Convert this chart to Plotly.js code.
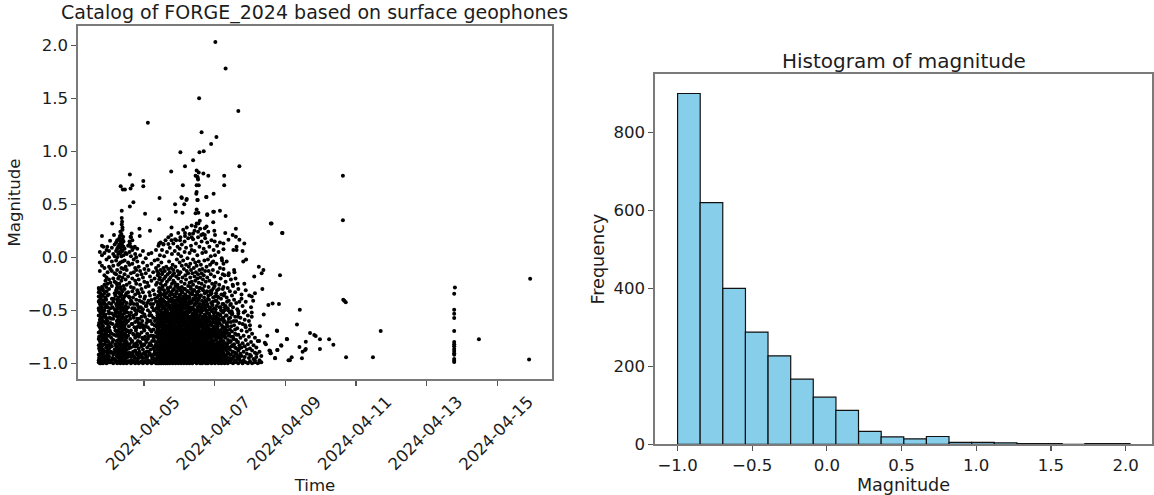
<!DOCTYPE html>
<html><head><meta charset="utf-8">
<script src="https://cdn.plot.ly/plotly-3.0.1.min.js"></script>
<style>html,body{margin:0;padding:0;background:#fff}#c{width:1154px;height:495px}</style></head>
<body><div id="c"></div>
<script>
const baseDay = Date.UTC(2024, 3, 3);
// isolated events: days after 2024-04-03 00:00, magnitude
const sparseDays = [4.02,4.31,3.56,4.67,2.11,3.63,4.05,3.90,3.69,3.57,3.03,3.39,3.16,4.70,2.77,3.49,3.55,3.68,3.82,4.27,3.46,3.51,3.53,3.52,1.60,1.98,1.98,1.67,1.62,1.34,1.40,1.46,3.10,3.49,3.55,4.27,3.49,3.48,3.97,3.76,2.44,3.07,3.21,3.52,
3.06,3.20,3.51,3.77,2.88,3.14,1.70,1.60,1.37,2.03,2.90,3.09,3.49,3.46,3.54,3.79,3.98,2.43,1.37,1.38,1.37,1.10,1.39,3.58,3.54,3.46,1.87,2.78,2.17,3.77,3.72,.81,1.15,1.32,1.41,1.62,1.65,1.88,3.16,3.16,3.39,3.35,3.53,3.62,3.72,3.82,2.78,2.88,3.02,1.04,.85,.96,1.37,1.32,1.42,1.60,1.74,2.43,2.55,2.69,
5.59,5.91,4.60,4.31,4.15,3.96,3.79,3.96,4.30,3.99,4.01,4.51,4.60,4.70,4.84,4.39,4.25,4.15,4.00,4.53,4.62,4.62,4.79,4.25,4.89,4.81,4.25,4.20,3.96,5.25,5.33,5.38,5.85,5.12,4.56,4.39,4.59,4.84,4.65,4.51,5.35,5.14,4.98,5.05,4.76,5.09,4.88,5.64,5.82,5.52,5.39,5.05,4.86,4.67,4.48,5.28,5.05,5.76,5.00,4.86,5.49,5.26,5.42,5.45,6.04,5.88,5.55,5.59,5.77,5.71,6.09,5.28,5.19,5.00,5.14,
7.63,7.63,5.61,5.92,7.64,7.67,7.71,6.41,6.33,5.77,8.70,6.70,6.82,6.86,6.05,6.98,7.24,6.58,7.36,5.89,6.40,6.58,6.98,5.78,6.56,6.49,5.57,5.58,6.47,5.71,6.18,6.13,7.72,8.48,
10.80,10.78,10.78,10.78,10.78,10.78,10.78,10.78,10.78,10.78,10.78,10.78,10.78,10.78,10.78,10.78,11.48,12.93,12.90];
const sparseMags = [2.03,1.78,1.50,1.38,1.27,1.18,1.135,1.07,1.0,.99,.99,.915,.86,.86,.81,.82,.80,.79,.77,.77,.77,.76,.735,.75,.78,.72,.67,.68,.65,.67,.64,.64,.68,.68,.68,.68,.615,.60,.60,.57,.56,.56,.55,.54,
.566,.54,.54,.57,.50,.50,.52,.48,.44,.41,.43,.42,.45,.415,.42,.405,.43,.36,.37,.335,.31,.32,.28,.345,.32,.29,.27,.28,.25,.29,.275,.20,.21,.20,.195,.195,.225,.20,.23,.20,.225,.19,.24,.21,.21,.24,.16,.17,.16,.157,.10,.10,.13,.10,.10,.13,.10,.13,.125,.125,
.32,.23,.27,.39,.44,.43,.40,.33,.23,.25,.21,.21,.195,.165,.13,.165,.13,.14,.15,.07,.10,.07,.06,.075,-.02,-.04,-.06,-.01,-.04,-.09,-.15,-.12,-.17,-.18,-.14,-.17,-.20,-.25,-.25,-.26,-.30,-.34,-.36,-.37,-.39,-.41,-.42,-.435,-.44,-.45,-.54,-.52,-.51,-.51,-.51,-.65,-.56,-.69,-.64,-.64,-.74,-.79,-.805,-.82,-.77,-.83,-.88,-.905,-.875,-.95,-.97,-.99,-.91,-.92,-.97,
.77,.35,.32,.23,-.40,-.41,-.425,-.494,-.633,-.695,-.695,-.714,-.733,-.743,-.774,-.774,-.774,-.796,-.824,-.834,-.846,-.865,-.865,-.875,-.875,-.89,-.884,-.906,-.953,-.953,-.944,-.972,-.944,-.944,
-.284,-.343,-.494,-.532,-.573,-.695,-.80,-.82,-.84,-.865,-.884,-.906,-.92,-.96,-.975,-.988,-.774,-.202,-.963];
// crowded part of the cloud, read column by column
const columnDays = [.72,.75,.78,.81,.84,.88,.91,.94,.97,1.01,1.05,1.09,1.13,1.17,1.21,1.24,1.27,1.30,1.33,1.36,1.39,1.42,1.45,1.48,1.51,1.55,1.59,1.63,1.67,1.71,1.75,1.78,1.81,1.85,1.89,1.93,1.97,2.01,2.05,2.09,2.13,2.17,2.21,2.26,2.30,2.34];
const columnMags = [
[-.99,-.92,-.97,-.71,-.83,-.64,-.48,-.55,-.37,-.42,-.29,-.33,-.77],
[-1,-.94,-.88,-.79,-.85,-.59,-.66,-.51,-.44,-.31,-.13,-.05,.05,-.98],
[-.96,-.9,-.81,-.74,-.86,-.68,-.61,-.46,-.53,-.38,-.35,-1],
[-.99,-.93,-.84,-.76,-.7,-.63,-.57,-.49,-.28,-.08,.02,.11,-.89],
[-1,-.95,-.87,-.91,-.73,-.65,-.78,-.52,-.6,-.41,-.31],
[-.97,-.99,-.82,-.69,-.75,-.56,-.43,-.5,-.34,-.26,-.17,-.1,.04],
[-.98,-.89,-.93,-.8,-.72,-.62,-.54,-.39,-.47,-.22],
[-1,-.95,-.85,-.67,-.77,-.58,-.45,-.32,-.19,-.02,.07],
[-.96,-.91,-.79,-.83,-.6,-.7,-.47,-.36,-.25,-.14],
[-.99,-.88,-.94,-.74,-.66,-.53,-.43,-.3,-.21,-.09,.0,.06],
[-.99,-.9,-.82,-.62,-.71,-.48,-.24,-.11],
[-.97,-.84,-.72,-.53,-.39,-.27,-.13,-.04,.09],
[-1,-.92,-.78,-.58,-.42,-.2,-.08,.03],
[-.96,-.87,-.66,-.49,-.34,-.23,-.15,.01,.12],
[-.98,-.9,-.84,-.74,-.64,-.55,-.44,-.31,-.24,-.16,-.03,.06,.14],
[-1,-.93,-.79,-.86,-.71,-.56,-.63,-.4,-.49,-.33,-.26,-.12,.0,.08,.16],
[-.95,-.99,-.89,-.78,-.84,-.65,-.72,-.52,-.59,-.45,-.38,-.29,-.2,-.07,.03,.1],
[-.98,-.91,-.86,-.75,-.81,-.62,-.69,-.47,-.55,-.41,-.34,-.25,-.18,-.06,.05,.12,.18],
[-1,-.94,-.82,-.87,-.68,-.76,-.53,-.6,-.46,-.37,-.28,-.14,-.05,.04,.09,.15,.24],
[-.96,-.99,-.9,-.73,-.79,-.58,-.66,-.5,-.43,-.35,-.22,-.1,.01,.07,.13,.22],
[-.98,-.88,-.93,-.77,-.83,-.62,-.7,-.44,-.54,-.32,-.19,-.04,.06,.11,.17,.26],
[-1,-.91,-.84,-.75,-.67,-.57,-.48,-.39,-.27,-.11,.02,.15],
[-.96,-.89,-.99,-.72,-.81,-.51,-.64,-.42,-.3,-.16,-.03,.08],
[-.98,-.86,-.93,-.68,-.78,-.59,-.46,-.36,-.21,-.09,.04],
[-1,-.87,-.95,-.7,-.8,-.43,-.56,-.26,-.12,.03],
[-.92,-.99,-.74,-.83,-.47,-.6,-.33,-.18,-.05,.11],
[-.98,-.82,-.9,-.55,-.71,-.38,-.24,-.07,.05,.15],
[-1,-.85,-.94,-.52,-.69,-.41,-.28,-.15,.01,.1,.19],
[-.91,-.99,-.63,-.79,-.32,-.48,-.2,-.06,.07,.16],
[-.98,-.84,-.93,-.57,-.73,-.29,-.44,-.14,-.02,.09],
[-1,-.76,-.88,-.5,-.95,-.61,-.35,-.22,-.1,.03],
[-.9,-.99,-.67,-.81,-.4,-.53,-.25,-.12,.0],
[-.98,-.83,-.92,-.58,-.72,-.31,-.45,-.17,-.04,.08],
[-1,-.75,-.86,-.94,-.47,-.62,-.34,-.21,-.09],
[-.91,-.99,-.66,-.8,-.37,-.51,-.26,-.13,.02],
[-.98,-.84,-.93,-.56,-.71,-.3,-.42,-.16],
[-1,-.87,-.95,-.64,-.77,-.33,-.49,-.19,-.05,.06],
[-.9,-.99,-.69,-.82,-.39,-.54,-.23,-.11],
[-.98,-.78,-.92,-.46,-.65,-.28,-.15,-.01],
[-1,-.85,-.94,-.59,-.72,-.43,-.24,-.08],
[-.89,-.99,-.6,-.75,-.41,-.27,-.12,.03],
[-.98,-.81,-.91,-.52,-.68,-.36,-.18],
[-1,-.83,-.93,-.55,-.7,-.4,-.22,-.06,.04],
[-.86,-.99,-.95,-.74,-.57,-.44,-.31,-.14],
[-.98,-.79,-.9,-.64,-.5,-.35,-.2,-.03],
[-1,-.82,-.96,-.92,-.71,-.58,-.42,-.26,-.1,.07]];
// dense block around 2024-04-05 to 2024-04-07
const blockDays = [2.37,2.39,2.41,2.43,2.45,2.47,2.49,2.51,2.53,2.55,2.57,2.59,2.61,2.63,2.65,2.67,2.69,2.71,2.73,2.75,2.77,2.79,2.81,2.83,2.85,2.87,2.89,2.91,2.93,2.95,2.97,2.99,3.01,3.03,3.05,3.07,3.09,3.11,3.13,3.15,3.17,3.19,3.21,3.23,3.25,3.27,3.29,3.31,3.33,3.35,3.37,3.39,3.41,3.43,3.45,3.47,3.49,3.51,3.53,3.55,3.57,3.59,3.61,3.63,3.65,3.67,3.69,3.71,3.73,3.75,3.77,3.79,3.81,3.83,3.85,3.87,3.89,3.91,3.93,3.95,3.97,3.99,4.01,4.03,4.05,4.07,4.09,4.11,4.13,4.15,4.17,4.19,4.21,4.23];
const blockMags = [
[-.97,-.86,-1,-.74,-.91,-.63,-.38,-.52,-.24,-.13],
[-.99,-.8,-.94,-.67,-.85,-.45,-.58,-.17,-.02],
[-.89,-1,-.96,-.72,-.56,-.78,-.36,-.49,-.15,-.08,.11],
[-.95,-.83,-.98,-.61,-.71,-.43,-.88,-.29,-.54,-.21],
[-.92,-1,-.77,-.85,-.64,-.5,-.33,-.4,-.19,.02],
[-.97,-.81,-.89,-.59,-.69,-.46,-.93,-.25,-.12,.14],
[-1,-.86,-.94,-.75,-.62,-.53,-.39,-.3,-.05],
[-.96,-.79,-.91,-.66,-.84,-.44,-.57,-.22,-.16,.07],
[-.99,-.87,-.93,-.73,-.6,-.48,-.35,-.27,-.14],
[-.95,-1,-.82,-.69,-.76,-.55,-.41,-.1,.12],
[-.9,-.97,-.84,-.63,-.71,-.47,-.52,-.31,-.2,.01],
[-.98,-.88,-.78,-.65,-.58,-.92,-.42,-.37,-.13],
[-1,-.85,-.94,-.7,-.8,-.51,-.61,-.26,-.18,.16],
[-.96,-.9,-.74,-.83,-.56,-.67,-.45,-.34,-.09],
[-.99,-.87,-.77,-.93,-.64,-.5,-.38,-.23,.05],
[-.95,-1,-.82,-.72,-.6,-.89,-.43,-.29,-.16],
[-.91,-.97,-.79,-.68,-.86,-.53,-.47,-.32,-.11,.19],
[-.98,-.84,-.92,-.75,-.62,-.4,-.55,-.21,-.04],
[-1,-.88,-.95,-.71,-.81,-.58,-.36,-.46,-.14,.09],
[-.93,-.86,-.99,-.65,-.76,-.49,-.54,-.28,-.19],
[-.96,-.83,-.9,-.73,-.61,-.42,-.52,-.33,-.1,.21],
[-.98,-.87,-.94,-.78,-.66,-.57,-.39,-.25,.03],
[-1,-.91,-.8,-.85,-.69,-.6,-.48,-.35,-.17,-.07],
[-.95,-.88,-.97,-.74,-.63,-.51,-.44,-.22,-.12,.13],
[-.99,-.82,-.92,-.77,-.67,-.55,-.3,-.41,-.15],
[-.9,-.96,-.84,-.72,-.59,-.64,-.46,-.37,-.24,.06],
[-1,-.93,-.86,-.79,-.7,-.53,-.43,-.27,-.09],
[-.97,-.89,-.81,-.75,-.61,-.56,-.34,-.47,-.18,.16],
[-.94,-.99,-.85,-.68,-.78,-.5,-.4,-.32,-.02],
[-.91,-.96,-.87,-.73,-.65,-.58,-.45,-.26,-.13,.1],
[-1,-.83,-.93,-.76,-.62,-.54,-.38,-.2,.03,.23],
[-.98,-.88,-.8,-.71,-.66,-.52,-.42,-.29,-.16],
[-.95,-.99,-.86,-.74,-.6,-.49,-.57,-.36,-.05,.08],
[-.9,-.97,-.82,-.77,-.69,-.55,-.44,-.31,-.14,.19],
[-1,-.92,-.84,-.72,-.64,-.47,-.53,-.39,-.23,.01],
[-.96,-.87,-.79,-.67,-.59,-.5,-.41,-.28,-.08,.12],
[-.99,-.89,-.94,-.75,-.63,-.56,-.46,-.33,-.19],
[-.93,-.85,-.98,-.7,-.78,-.52,-.37,-.43,-.03,.26],
[-.91,-1,-.81,-.74,-.61,-.68,-.48,-.3,-.11],
[-.97,-.88,-.83,-.65,-.76,-.54,-.42,-.25,.05,.15],
[-.95,-.99,-.86,-.71,-.58,-.62,-.45,-.35,-.17],
[-.9,-.94,-.8,-.73,-.66,-.51,-.4,-.21,-.07,.09],
[-1,-.96,-.84,-.77,-.6,-.69,-.55,-.38,-.13,.28],
[-.92,-.87,-.98,-.72,-.64,-.47,-.53,-.32,-.01],
[-.99,-.85,-.79,-.67,-.57,-.43,-.49,-.27,-.15,.18],
[-.95,-.89,-.82,-.75,-.63,-.52,-.37,-.44,-.09],
[-.97,-1,-.86,-.7,-.78,-.59,-.41,-.24,.04,.22],
[-.91,-.93,-.83,-.74,-.65,-.56,-.34,-.19,-.06],
[-.96,-.88,-.99,-.76,-.61,-.68,-.5,-.3,-.12,.11],
[-.94,-.81,-.87,-.72,-.58,-.64,-.42,-.23,.07,.3],
[-1,-.9,-.84,-.77,-.66,-.54,-.47,-.33,-.15],
[-.98,-.86,-.92,-.73,-.62,-.55,-.39,-.26,-.02,.17],
[-.95,-.89,-.8,-.69,-.75,-.49,-.57,-.31,-.1],
[-.97,-.83,-.91,-.71,-.6,-.52,-.44,-.18,.06,.25],
[-.99,-.87,-.94,-.78,-.63,-.67,-.36,-.22,-.05],
[-.92,-.85,-.96,-.74,-.58,-.5,-.4,-.14,.13],
[-1,-.88,-.81,-.7,-.65,-.53,-.43,-.28,-.08,.32],
[-.94,-.9,-.84,-.76,-.61,-.56,-.35,-.2,.02],
[-.97,-.86,-.79,-.72,-.68,-.51,-.41,-.16,.19],
[-.99,-.93,-.83,-.75,-.59,-.46,-.32,-.24,-.04],
[-.91,-.87,-.96,-.66,-.73,-.55,-.38,-.12,.1],
[-.95,-1,-.82,-.77,-.62,-.49,-.29,-.19,.27],
[-.89,-.98,-.85,-.7,-.64,-.52,-.36,-.07],
[-.93,-.97,-.8,-.74,-.6,-.47,-.25,-.15,.15],
[-1,-.86,-.91,-.69,-.78,-.57,-.45,-.11,.04],
[-.94,-.88,-.83,-.72,-.63,-.5,-.31,-.21,.22],
[-.98,-.9,-.76,-.66,-.58,-.43,-.17,.08],
[-.96,-.84,-.92,-.71,-.55,-.48,-.27,-.03],
[-.99,-.87,-.79,-.68,-.61,-.41,-.13,.18],
[-.93,-1,-.85,-.73,-.56,-.46,-.23,.05],
[-.97,-.82,-.89,-.65,-.75,-.51,-.33,-.09],
[-.95,-.91,-.77,-.7,-.59,-.44,-.19,.14],
[-1,-.86,-.94,-.67,-.53,-.39,-.02],
[-.98,-.83,-.9,-.74,-.6,-.28,-.13],
[-.92,-.96,-.8,-.69,-.54,-.22,.1],
[-.99,-.87,-.76,-.63,-.47,-.32,-.07],
[-.94,-.85,-.97,-.71,-.57,-.16,.01],
[-1,-.89,-.78,-.64,-.5,-.34,.16],
[-.91,-.96,-.82,-.68,-.25,-.05],
[-.98,-.86,-.73,-.61,-.42,-.12],
[-.93,-.99,-.79,-.66,-.52,-.29,.07],
[-.95,-.84,-.88,-.7,-.58,-.18],
[-1,-.9,-.75,-.62,-.37,.02],
[-.97,-.83,-.92,-.67,-.49,-.24],
[-.94,-.87,-.77,-.56,-.41,-.06],
[-.99,-.81,-.72,-.6,-.31,.11],
[-.91,-.96,-.85,-.65,-.53,-.14],
[-1,-.88,-.74,-.58,-.38,.05],
[-.93,-.98,-.8,-.69,-.26],
[-.95,-.86,-.76,-.54,-.1],
[-.97,-.9,-.71,-.47,-.2],
[-1,-.83,-.94,-.59,-.35],
[-.92,-.87,-.73,-.51,-.03],
[-.99,-.8,-.66,-.3,-.16]];
// second pass over the black lower band
const bandDays = [.73,.77,.8,.83,.86,.9,.93,.96,1.0,1.03,1.07,1.11,1.15,1.19,1.23,1.26,1.29,1.32,1.35,1.38,1.41,1.44,1.47,1.5,1.53,1.57,1.61,1.65,1.69,1.73,1.77,1.8,1.83,1.87,1.91,1.95,1.99,2.03,2.07,2.11,2.15,2.19,2.23,2.27,2.31,2.35,2.38,2.4,2.42,2.44,2.46,2.48,2.5,2.52,2.54,2.56,2.58,2.6,2.62,2.64,2.66,2.68,2.7,2.72,2.74,2.76,2.78,2.8,2.82,2.84,2.86,2.88,2.9,2.92,2.94,2.96,2.98,3.0,3.02,3.04,3.06,3.08,3.1,3.12,3.14,3.16,3.18,3.2,3.22,3.24,3.26,3.28,3.3,3.32,3.34,3.36,3.38,3.4,3.42,3.44,3.46,3.48,3.5,3.52,3.54,3.56,3.58,3.6,3.62,3.64,3.66,3.68,3.7,3.72,3.74,3.76,3.78,3.8,3.82,3.84,3.86,3.88,3.9,3.92,3.94,3.96,3.98,4.0,4.02,4.04,4.06,4.08,4.1,4.12,4.14,4.16,4.18,4.2,4.22,4.24,4.26,4.29,4.32,4.35,4.38,4.41,4.44,4.47,4.5,4.54,4.58,4.62,4.66,4.7,4.74,4.78];
const bandMags = [
[-.95,-.86,-.75,-.62,-.5,-.41,-.3],
[-.9,-.8,-.69,-.56,-.39,-.34],
[-.98,-.83,-.72,-.58,-.47,-.43],
[-.91,-.78,-.65,-.53,-.36,-.3],
[-.97,-.89,-.68,-.55,-.44],
[-.94,-.77,-.61,-.47,-.38],
[-.85,-.71,-.57,-.4,-.28],
[-.99,-.88,-.74,-.63],
[-.93,-.8,-.65,-.51,-.35],
[-.97,-.85,-.69,-.57],
[-.89,-.76,-.58,-.44],
[-.95,-.8,-.63,-.47],
[-.9,-.73,-.55,-.39],
[-.97,-.82,-.69,-.52,-.36],
[-.93,-.79,-.6,-.46,-.29],
[-.99,-.88,-.74,-.6,-.42],
[-.92,-.81,-.68,-.56,-.33],
[-.97,-.85,-.71,-.52,-.44],
[-.9,-.77,-.64,-.49,-.3],
[-.95,-.83,-.7,-.55,-.4],
[-.99,-.86,-.74,-.61,-.47],
[-.92,-.79,-.66,-.53,-.37],
[-.97,-.84,-.73,-.59],
[-.9,-.76,-.62,-.49,-.34],
[-.94,-.82,-.69,-.52],
[-.98,-.86,-.65,-.37],
[-.93,-.77,-.58,-.44],
[-.97,-.8,-.63,-.42],
[-.89,-.72,-.55,-.38],
[-.95,-.82,-.66,-.48],
[-.99,-.84,-.69,-.54],
[-.91,-.74,-.6,-.44],
[-.96,-.79,-.65,-.5,-.33],
[-.89,-.73,-.58,-.41],
[-.94,-.81,-.63,-.47],
[-.98,-.76,-.6,-.52],
[-.91,-.83,-.67,-.43],
[-.95,-.75,-.56,-.37],
[-.89,-.8,-.62,-.46],
[-.97,-.77,-.66,-.5],
[-.92,-.83,-.55,-.33],
[-.87,-.74,-.6,-.44],
[-.96,-.79,-.63,-.47],
[-.92,-.76,-.68,-.5],
[-.88,-.84,-.6,-.39],
[-.98,-.75,-.65,-.48],
[-.93,-.84,-.69,-.55,-.42],
[-.98,-.88,-.76,-.61,-.47],
[-.91,-.79,-.66,-.54,-.32],
[-.96,-.86,-.73,-.59,-.44],
[-.99,-.83,-.7,-.57,-.36],
[-.93,-.88,-.77,-.64,-.51],
[-.97,-.84,-.72,-.56,-.42],
[-.9,-.81,-.68,-.6,-.28],
[-.96,-.86,-.75,-.52,-.4],
[-.99,-.89,-.71,-.63,-.46],
[-.93,-.82,-.77,-.58,-.34],
[-.96,-.86,-.73,-.66,-.49],
[-.91,-.81,-.69,-.54,-.43],
[-.98,-.88,-.76,-.6,-.38],
[-.93,-.84,-.71,-.65,-.52],
[-.97,-.8,-.74,-.57,-.3],
[-.9,-.87,-.67,-.62,-.45],
[-.95,-.83,-.78,-.55,-.41],
[-.99,-.89,-.72,-.6,-.35],
[-.92,-.81,-.69,-.64,-.48],
[-.96,-.85,-.75,-.53,-.39],
[-.89,-.83,-.7,-.58,-.45],
[-.97,-.87,-.77,-.63,-.31],
[-.93,-.8,-.72,-.56,-.42],
[-.98,-.84,-.69,-.6,-.49],
[-.91,-.88,-.74,-.52,-.37],
[-.95,-.82,-.78,-.66,-.43],
[-.98,-.85,-.7,-.57,-.34],
[-.92,-.89,-.75,-.62,-.48],
[-.96,-.81,-.71,-.59,-.29],
[-.9,-.84,-.77,-.54,-.4],
[-.97,-.87,-.73,-.63,-.46],
[-.93,-.83,-.68,-.56,-.35],
[-.99,-.89,-.74,-.61,-.5],
[-.94,-.8,-.7,-.65,-.41],
[-.97,-.86,-.76,-.53,-.33],
[-.91,-.82,-.72,-.59,-.45],
[-.95,-.88,-.78,-.63,-.39],
[-.98,-.84,-.69,-.57,-.48],
[-.92,-.8,-.73,-.6,-.3],
[-.96,-.87,-.75,-.52,-.42],
[-.89,-.83,-.71,-.66,-.37],
[-.97,-.85,-.77,-.55,-.46],
[-.93,-.81,-.68,-.62,-.32],
[-.98,-.88,-.74,-.58,-.44],
[-.95,-.84,-.7,-.64,-.38],
[-.91,-.79,-.76,-.51,-.47],
[-.97,-.86,-.72,-.6,-.28],
[-.93,-.82,-.67,-.56,-.43],
[-.99,-.89,-.75,-.63,-.35],
[-.95,-.85,-.71,-.53,-.49],
[-.9,-.8,-.77,-.59,-.4],
[-.96,-.87,-.73,-.65,-.31],
[-.92,-.83,-.69,-.54,-.45],
[-.98,-.88,-.76,-.61,-.37],
[-.94,-.81,-.72,-.57,-.42],
[-.97,-.85,-.68,-.62,-.33],
[-.91,-.89,-.74,-.5,-.47],
[-.95,-.82,-.78,-.64,-.39],
[-.99,-.87,-.7,-.58,-.29],
[-.93,-.84,-.75,-.55,-.44],
[-.96,-.8,-.71,-.61,-.36],
[-.9,-.88,-.77,-.52,-.48],
[-.97,-.83,-.69,-.6,-.41],
[-.92,-.86,-.73,-.66,-.3],
[-.98,-.81,-.76,-.56,-.45],
[-.94,-.89,-.7,-.63,-.38],
[-.96,-.84,-.74,-.54,-.34],
[-.91,-.87,-.78,-.59,-.47],
[-.99,-.82,-.68,-.62,-.42],
[-.93,-.85,-.72,-.5,-.32],
[-.97,-.8,-.75,-.57,-.46],
[-.89,-.88,-.71,-.64,-.36],
[-.95,-.83,-.67,-.53,-.4],
[-.98,-.86,-.76,-.6,-.49],
[-.92,-.81,-.73,-.56,-.35],
[-.96,-.88,-.7,-.63,-.43],
[-.9,-.84,-.77,-.51,-.31],
[-.97,-.8,-.74,-.58,-.45],
[-.93,-.86,-.69,-.61,-.38],
[-.99,-.83,-.72,-.55,-.48],
[-.94,-.88,-.75,-.65,-.27],
[-.96,-.82,-.7,-.52,-.41],
[-.91,-.85,-.78,-.6,-.34],
[-.98,-.89,-.73,-.57,-.46],
[-.93,-.81,-.68,-.63,-.37],
[-.97,-.84,-.76,-.54,-.43],
[-.9,-.87,-.71,-.59,-.3],
[-.95,-.83,-.74,-.62,-.47],
[-.99,-.88,-.69,-.55],
[-.92,-.8,-.77,-.5,-.39],
[-.96,-.85,-.72,-.64],
[-.94,-.82,-.67,-.58,-.44],
[-.98,-.87,-.75,-.52],
[-.91,-.83,-.7,-.61,-.36],
[-.97,-.86,-.73,-.47],
[-.93,-.81,-.66,-.55],
[-.96,-.84,-.69,-.42],
[-.9,-.78,-.61,-.5],
[-.98,-.85,-.72],
[-.92,-.8,-.57,-.45],
[-.96,-.75,-.65],
[-.89,-.83,-.53],
[-.94,-.77,-.6],
[-.98,-.85,-.68],
[-.91,-.73],
[-.96,-.8,-.56],
[-.93,-.86]];
// right flank of the cloud
const flankDays = [4.25,4.28,4.31,4.34,4.37,4.40,4.43,4.46,4.49,4.52,4.55,4.58,4.61,4.64,4.67,4.70,4.73,4.76,4.79,4.82,4.85,4.88,4.91,4.94,4.97,5.00,5.03,5.06,5.10,5.14,5.18,5.22,5.27,5.32];
const flankMags = [
[-.98,-.9,-.79,-.85,-.66,-.57,-.44,-.28,-.11],
[-1,-.86,-.94,-.73,-.6,-.5,-.34,-.17],
[-.93,-.83,-.99,-.69,-.76,-.46,-.23],
[-.97,-.88,-.71,-.55,-.63,-.38,-.04],
[-1,-.91,-.81,-.65,-.48,-.29],
[-.95,-.85,-.74,-.58,-.41,-.15],
[-.98,-.87,-.68,-.52,-.32],
[-.92,-.99,-.79,-.61,-.44,-.21],
[-.96,-.84,-.7,-.54,-.36],
[-1,-.89,-.75,-.47,-.27],
[-.93,-.82,-.64,-.4,-.12],
[-.97,-.9,-.72,-.56,-.33],
[-.99,-.86,-.78,-.6,-.43],
[-.94,-.8,-.67,-.49],
[-1,-.88,-.73,-.53,-.3],
[-.96,-.83,-.62,-.42],
[-.98,-.91,-.76,-.57],
[-.93,-.85,-.69,-.35],
[-1,-.81,-.63,-.46],
[-.97,-.89,-.74,-.52],
[-.94,-.84,-.59],
[-.99,-.78,-.66,-.31],
[-.91,-.87,-.7],
[-1,-.82,-.55],
[-.95,-.75,-.6],
[-.98,-.86,-.68],
[-.93,-.8,-.47],
[-1,-.88,-.72],
[-.96,-.83],
[-.99,-.9,-.76],
[-.94,-.85],
[-1,-.79],
[-.97,-.89],
[-.99,-.93]];
// histogram
const binCenters = [-.924,-.773,-.621,-.470,-.318,-.167,-.015,.136,.288,.439,.591,.742,.894,1.045,1.197,1.348,1.500,1.651,1.803,1.954];
const binCounts = [900,620,400,288,227,167,121,87,33,19,14,20,5,5,4,2,2,0,2,2];
const binWidth = 0.1515;
const dateTicks = ['2024-04-05','2024-04-07','2024-04-09','2024-04-11','2024-04-13','2024-04-15'];
const magnitudeTicks = [-1,-.5,0,.5,1,1.5,2];
const magnitudeLabels = ['\u22121.0','\u22120.5','0.0','0.5','1.0','1.5','2.0'];
const frequencyTicks = [0,200,400,600,800];

const toIso = d => new Date(baseDay + d * 864e5).toISOString();
const allDays = sparseDays.slice(), allMags = sparseMags.slice();
[[columnDays,columnMags],[blockDays,blockMags],[bandDays,bandMags],[flankDays,flankMags]].forEach(([ds,ms]) =>
  ds.forEach((d, i) => (ms[i] || []).forEach(m => { allDays.push(d); allMags.push(m); })));

const ink = '#1c1c1c', spine = '#7a7a7a', W = 1154, H = 495;
const fnt = s => ({family: '"DejaVu Sans", sans-serif', size: s, color: ink});
const axisBase = {showgrid: false, zeroline: false, showline: true, mirror: true, linecolor: spine, linewidth: 1.6,
  ticks: 'outside', ticklen: 5, tickwidth: 1.2, tickcolor: '#555', tickfont: fnt(16.6)};
const fx = (a, b) => [a / W, b / W], fy = (t, b) => [1 - b / H, 1 - t / H];

Plotly.newPlot('c', [
  {type: 'scatter', mode: 'markers', x: allDays.map(toIso), y: allMags, xaxis: 'x', yaxis: 'y',
   marker: {color: '#000', size: 4}, hoverinfo: 'skip'},
  {type: 'bar', x: binCenters, y: binCounts, width: binWidth, xaxis: 'x2', yaxis: 'y2',
   marker: {color: '#87CEEB', line: {color: '#111', width: 1.2}}}
], {
  width: W, height: H, margin: {l: 0, r: 0, t: 0, b: 0}, showlegend: false,
  paper_bgcolor: '#fff', plot_bgcolor: '#fff', bargap: 0,
  xaxis: {...axisBase, type: 'date', anchor: 'y', domain: fx(78, 552), range: ['2024-04-03 03:10', '2024-04-16 13:10'],
    tickmode: 'array', tickvals: dateTicks, ticktext: dateTicks, tickangle: -45, ticklabelshift: 31,
    title: {text: 'Time', font: fnt(16.6), standoff: 76}},
  yaxis: {...axisBase, anchor: 'x', domain: fy(26, 379), range: [-1.148, 2.182], tickmode: 'array', tickvals: magnitudeTicks,
    ticktext: magnitudeLabels, title: {text: 'Magnitude', font: fnt(16.6), standoff: 3}},
  xaxis2: {...axisBase, anchor: 'y2', domain: fx(655, 1152), range: [-1.151, 2.177], tickmode: 'array', tickvals: magnitudeTicks,
    ticktext: magnitudeLabels, title: {text: 'Magnitude', font: fnt(17.6), standoff: 2}},
  yaxis2: {...axisBase, anchor: 'x2', domain: fy(74, 444.3), range: [0, 950], tickmode: 'array', tickvals: frequencyTicks,
    title: {text: 'Frequency', font: fnt(17.6), standoff: 4}},
  annotations: [
    {text: 'Catalog of FORGE_2024 based on surface geophones', xref: 'paper', yref: 'paper', x: 315 / W, y: 1 - 12 / H,
     xanchor: 'center', yanchor: 'middle', showarrow: false, font: fnt(19)},
    {text: 'Histogram of magnitude', xref: 'paper', yref: 'paper', x: 904 / W, y: 1 - 61 / H,
     xanchor: 'center', yanchor: 'middle', showarrow: false, font: fnt(20)}
  ]
}, {displayModeBar: false, staticPlot: true});
</script></body></html>
